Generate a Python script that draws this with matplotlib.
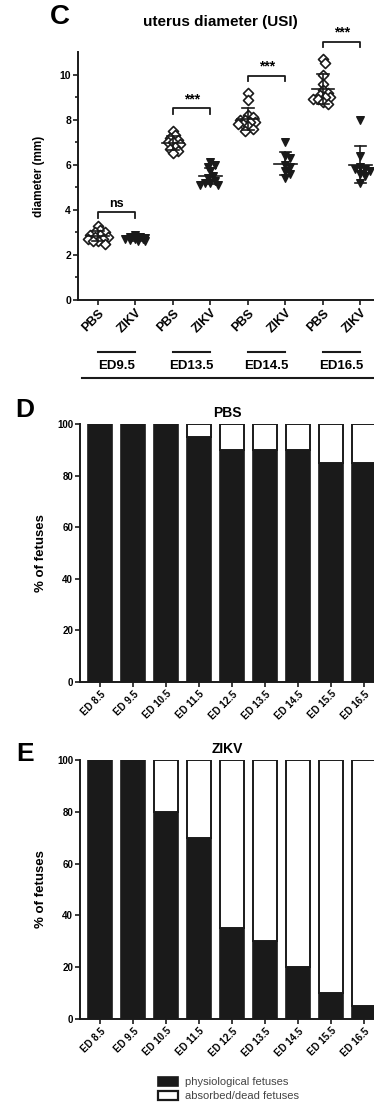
import numpy as np
import matplotlib
matplotlib.use("Agg")
import matplotlib.pyplot as plt
from matplotlib.patches import Patch

plt.rcParams["font.family"] = ["Liberation Sans", "DejaVu Sans"]
plt.rcParams["font.weight"] = "bold"
plt.rcParams["axes.labelweight"] = "bold"
plt.rcParams["axes.titleweight"] = "bold"

INK = "#1a1a1a"

# Panel C data: uterus diameter (mm)
groups = ["ED9.5", "ED13.5", "ED14.5", "ED16.5"]
conditions = ["PBS", "ZIKV"]
pbs_95 = [3.3, 3.1, 3.0, 3.0, 2.9, 2.9, 2.8, 2.8, 2.7, 2.7, 2.6, 2.6, 2.5]
zikv_95 = [2.9, 2.8, 2.8, 2.75, 2.7, 2.7, 2.7, 2.65, 2.6, 2.6]
pbs_135 = [7.5, 7.3, 7.2, 7.1, 7.0, 7.0, 6.9, 6.8, 6.7, 6.6, 6.5]
zikv_135 = [6.1, 6.0, 5.9, 5.7, 5.5, 5.4, 5.3, 5.2, 5.2, 5.1, 5.1]
pbs_145 = [9.2, 8.85, 8.2, 8.1, 8.0, 8.0, 7.9, 7.9, 7.8, 7.8, 7.7, 7.6, 7.5]
zikv_145 = [7.0, 6.4, 6.3, 6.0, 5.9, 5.7, 5.6, 5.4]
pbs_165 = [10.7, 10.5, 10.0, 9.6, 9.3, 9.2, 9.1, 9.0, 9.0, 8.9, 8.9, 8.8, 8.7]
zikv_165 = [8.0, 6.4, 5.9, 5.8, 5.8, 5.7, 5.6, 5.5, 5.2]
series = [pbs_95, zikv_95, pbs_135, zikv_135, pbs_145, zikv_145, pbs_165, zikv_165]
sig_labels = ["ns", "***", "***", "***"]
sig_heights = [3.9, 8.5, 9.95, 11.45]

# Panels D/E data: % of fetuses
days = ["ED 8.5", "ED 9.5", "ED 10.5", "ED 11.5", "ED 12.5",
        "ED 13.5", "ED 14.5", "ED 15.5", "ED 16.5"]
pbs_phys = [100, 100, 100, 95, 90, 90, 90, 85, 85]
zikv_phys = [100, 100, 80, 70, 35, 30, 20, 10, 5]


def swarm(vals, xs_px, ys_px, r, cap):
    # spread points sideways a little, GraphPad-style, overlap allowed
    order = np.argsort(vals)[::-1]
    placed = []
    offs = np.zeros(len(vals))
    for i in order:
        y = vals[i] * ys_px
        best, best_d = 0.0, -1
        for k in range(21):
            cand = (k + 1) // 2 * (1 if k % 2 else -1) * r * 0.5
            if abs(cand) > cap:
                continue
            d = min([(cand - ox) ** 2 + (y - oy) ** 2 for ox, oy in placed] or [1e9])
            if d >= r * r:
                best = cand
                break
            if d > best_d:
                best, best_d = cand, d
        placed.append((best, y))
        offs[i] = best / xs_px
    return offs


fig = plt.figure(figsize=(3.74, 11.04), dpi=100)
W, H = 374.0, 1104.0

# ---------------- panel C ----------------
axC = fig.add_axes([78 / W, 1 - 300 / H, 296 / W, 248 / H])
xs_px, ys_px = 37.5, 22.5
for i, vals in enumerate(series):
    vals = np.array(vals)
    offs = swarm(vals, xs_px, ys_px, 5.0, 10.0)
    if i % 2 == 0:
        axC.scatter(i + offs, vals, marker="D", s=26, facecolors="white",
                    edgecolors=INK, linewidths=1.2, zorder=3)
    else:
        axC.scatter(i + offs, vals, marker="v", s=30, color=INK, zorder=3)
    m, sd = vals.mean(), vals.std(ddof=1)
    axC.plot([i - 0.3, i + 0.3], [m, m], color=INK, lw=1.2, zorder=4)
    axC.plot([i, i], [m - sd, m + sd], color=INK, lw=1.2, zorder=4)
    for v in (m - sd, m + sd):
        axC.plot([i - 0.15, i + 0.15], [v, v], color=INK, lw=1.2, zorder=4)

for g, (lab, h) in enumerate(zip(sig_labels, sig_heights)):
    x0, x1 = 2 * g, 2 * g + 1
    axC.plot([x0, x0, x1, x1], [h - 0.25, h, h, h - 0.25], color=INK, lw=1.3,
             clip_on=False)
    axC.text((x0 + x1) / 2, h + 0.1, lab, ha="center", va="bottom",
             fontsize=9 if lab == "ns" else 10, clip_on=False)

axC.set_xlim(-0.533, 7.36)
axC.set_ylim(0, 11)
axC.set_yticks([0, 2, 4, 6, 8, 10])
axC.set_yticks([1, 3, 5, 7, 9], minor=True)
axC.set_xticks(range(8))
axC.set_xticklabels(conditions * 4, rotation=45, ha="right",
                    rotation_mode="anchor", fontsize=9)
axC.set_ylabel("diameter (mm)", fontsize=8.5)
axC.yaxis.set_label_coords(-0.11, 0.5)

trC = axC.get_xaxis_transform()
for g, name in enumerate(groups):
    axC.plot([2 * g, 2 * g + 1], [-0.21, -0.21], color=INK, lw=1.5,
             transform=trC, clip_on=False)
    axC.text(2 * g + 0.5, -0.268, name, ha="center", va="center",
             fontsize=9.5, transform=trC)
axC.plot([-0.43, 7.36], [-0.315, -0.315], color=INK, lw=1.5,
         transform=trC, clip_on=False)

fig.text(220 / W, 1 - 22 / H, "uterus diameter (USI)", ha="center",
         va="center", fontsize=11)
fig.text(60 / W, 1 - 17 / H, "C", ha="center", va="center", fontsize=20)


# ---------------- panels D / E ----------------
def bar_panel(rect, phys, title, letter, ly):
    ax = fig.add_axes(rect)
    x = np.arange(len(days))
    dead = [100 - p for p in phys]
    ax.bar(x, phys, width=0.72, color=INK, edgecolor=INK, lw=1.2, zorder=2)
    ax.bar(x, dead, bottom=phys, width=0.72, color="white", edgecolor=INK,
           lw=1.4, zorder=2)
    ax.set_xlim(-0.606, 8.3)
    ax.set_ylim(0, 100)
    ax.set_yticks([0, 20, 40, 60, 80, 100])
    ax.set_xticks(x)
    ax.set_xticklabels(days, rotation=45, ha="right", rotation_mode="anchor",
                       fontsize=7)
    ax.set_ylabel("% of fetuses", fontsize=9.5)
    ax.yaxis.set_label_coords(-0.112, 0.5)
    ax.set_title(title, fontsize=10, pad=5)
    fig.text(25 / W, 1 - ly / H, letter, ha="center", va="center",
             fontsize=19)
    return ax


axD = bar_panel([80 / W, 1 - 682 / H, 294 / W, 258 / H], pbs_phys, "PBS", "D", 410)
axE = bar_panel([80 / W, 1 - 1019 / H, 294 / W, 259 / H], zikv_phys, "ZIKV", "E", 754)

for ax, ysize in ((axC, 7.5), (axD, 7), (axE, 7)):
    for s in ("top", "right"):
        ax.spines[s].set_visible(False)
    for s in ("left", "bottom"):
        ax.spines[s].set_linewidth(1.4)
        ax.spines[s].set_color(INK)
    ax.tick_params(which="both", direction="out", width=1.2, color=INK, pad=1.5)
    ax.tick_params(axis="y", labelsize=ysize)
    ax.tick_params(which="major", length=3.5)
    ax.tick_params(which="minor", length=2.2)

handles = [Patch(facecolor=INK, edgecolor=INK, lw=1.2),
           Patch(facecolor="white", edgecolor=INK, lw=1.6)]
leg = fig.legend(handles, ["physiological fetuses", "absorbed/dead fetuses"],
                 loc="upper left", bbox_to_anchor=(148 / W, 1 - 1067 / H),
                 frameon=False, handlelength=1.8, handleheight=0.9,
                 labelspacing=0.3, handletextpad=0.6,
                 prop={"size": 8, "weight": "normal"})
for t in leg.get_texts():
    t.set_color("#444444")

fig.savefig("out.png", dpi=100)
